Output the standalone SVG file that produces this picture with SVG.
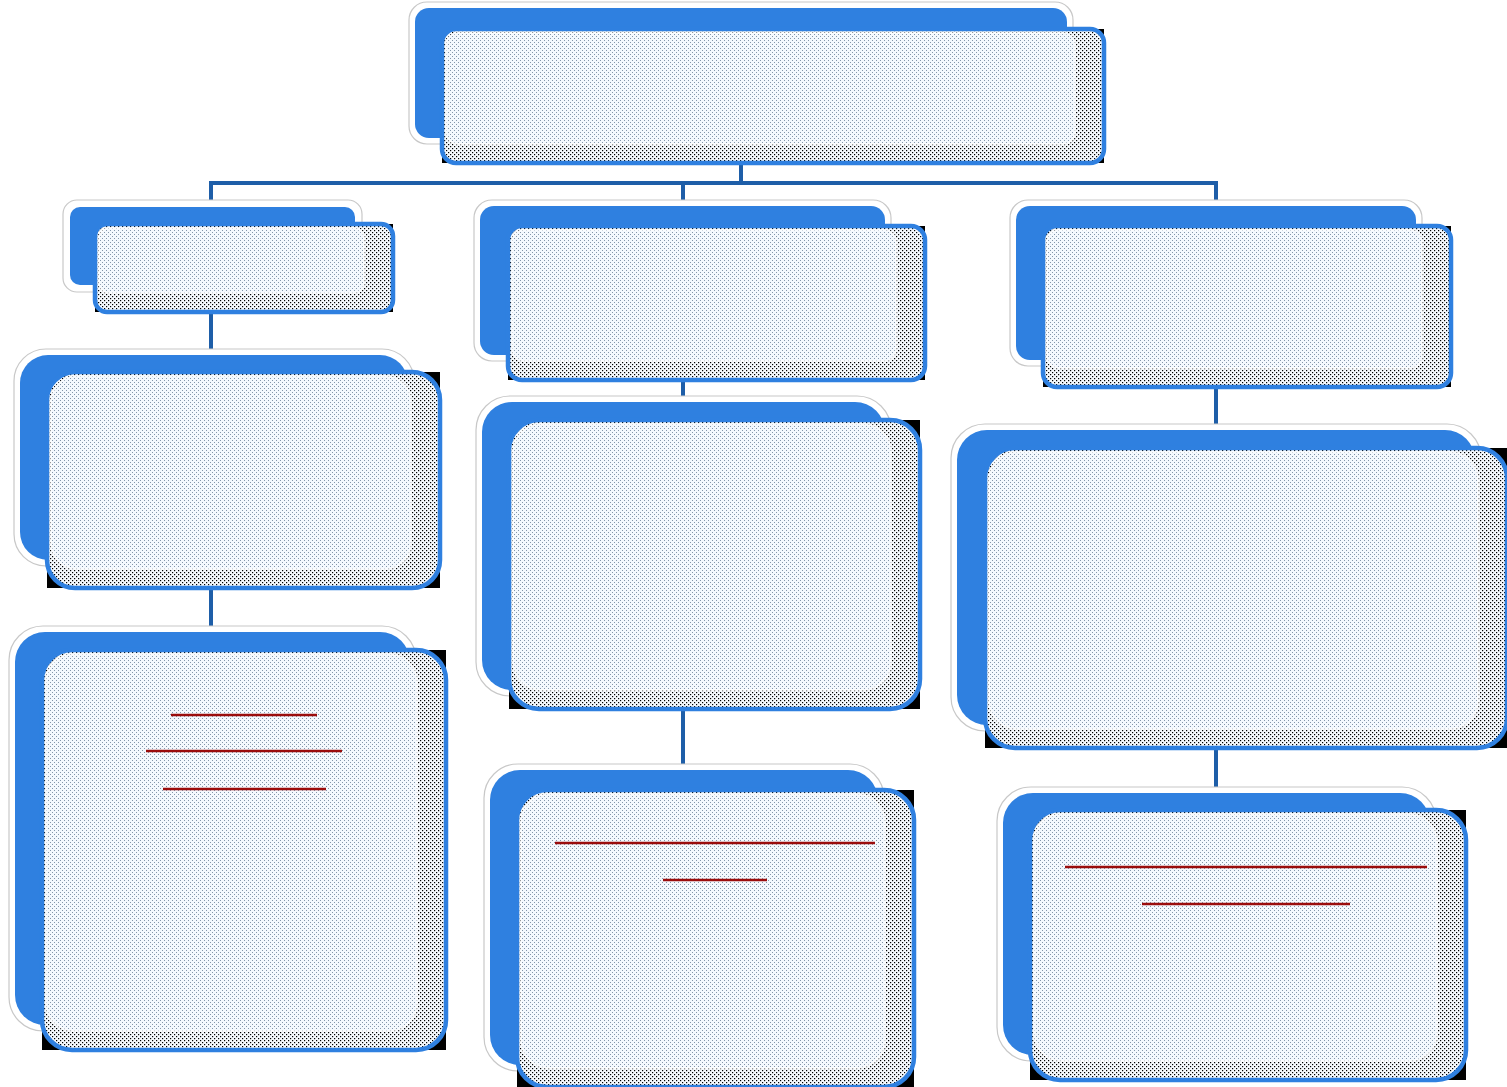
<svg xmlns="http://www.w3.org/2000/svg" width="1507" height="1087" viewBox="0 0 1507 1087">
<defs>
<pattern id="lt" patternUnits="userSpaceOnUse" width="4" height="4">
<rect width="4" height="4" fill="#F4F9FE"/>
<rect x="0" y="0" width="1" height="1" fill="#8496AA"/>
<rect x="2" y="2" width="1" height="1" fill="#8496AA"/>
</pattern>
<pattern id="dk" patternUnits="userSpaceOnUse" width="4" height="4">
<rect width="4" height="4" fill="#F6FAFE"/>
<rect x="0" y="0" width="1.2" height="1.2" fill="#000"/>
<rect x="2" y="2" width="1.2" height="1.2" fill="#000"/>
</pattern>
<style>
.ol{fill:#fff;stroke:#c8c8c8;stroke-width:1.2}
.bk{fill:#2F80E0}
.sh{fill:#000}
.fr{fill:url(#dk);stroke:#2F80E0;stroke-width:4.5}
.in{fill:url(#lt);stroke:#fff;stroke-opacity:0.6;stroke-width:2}
.con{stroke:#1E5EA8;stroke-width:4;fill:none}
.red{stroke:#9A0C0C;stroke-width:2.5}
</style>
</defs>
<rect width="1507" height="1087" fill="#fff"/>
<g id="connectors">
<path class="con" d="M741 163V183M211 183H1216M211 181V207M683 181V207M1216 181V207"/>
<path class="con" d="M211 312V356M683 380V404M1216 387V432"/>
<path class="con" d="M211 588V634M683 709V772M1216 748V795"/>
</g>
<g id="n1">
<rect class="ol" x="409" y="2" width="664" height="142" rx="18"/>
<rect class="sh" x="442" y="29" width="662" height="134"/>
<rect class="bk" x="415" y="8" width="652" height="130" rx="14"/>
<rect class="fr" x="442" y="29" width="662" height="134" rx="14"/>
<rect class="in" x="446" y="33" width="629" height="111" rx="12"/>
</g>
<g id="n2">
<rect class="ol" x="63" y="200" width="299" height="92" rx="14"/>
<rect class="sh" x="95" y="224" width="298" height="88"/>
<rect class="bk" x="70" y="207" width="285" height="78" rx="10"/>
<rect class="fr" x="95" y="224" width="298" height="88" rx="12"/>
<rect class="in" x="99" y="228" width="265" height="65" rx="10"/>
</g>
<g id="n3">
<rect class="ol" x="474" y="200" width="417" height="161" rx="18"/>
<rect class="sh" x="508" y="226" width="417" height="154"/>
<rect class="bk" x="480" y="206" width="405" height="149" rx="14"/>
<rect class="fr" x="508" y="226" width="417" height="154" rx="14"/>
<rect class="in" x="512" y="230" width="384" height="131" rx="12"/>
</g>
<g id="n4">
<rect class="ol" x="1010" y="200" width="412" height="166" rx="18"/>
<rect class="sh" x="1043" y="226" width="408" height="161"/>
<rect class="bk" x="1016" y="206" width="400" height="154" rx="14"/>
<rect class="fr" x="1043" y="226" width="408" height="161" rx="14"/>
<rect class="in" x="1047" y="230" width="375" height="138" rx="12"/>
</g>
<g id="n5">
<rect class="ol" x="14" y="349" width="400" height="217" rx="32"/>
<rect class="sh" x="47" y="372" width="393" height="216"/>
<rect class="bk" x="20" y="355" width="388" height="205" rx="28"/>
<rect class="fr" x="47" y="372" width="393" height="216" rx="28"/>
<rect class="in" x="51" y="376" width="360" height="193" rx="26"/>
</g>
<g id="n6">
<rect class="ol" x="476" y="396" width="415" height="300" rx="34"/>
<rect class="sh" x="509" y="420" width="411" height="289"/>
<rect class="bk" x="482" y="402" width="403" height="288" rx="30"/>
<rect class="fr" x="509" y="420" width="411" height="289" rx="30"/>
<rect class="in" x="513" y="424" width="378" height="266" rx="28"/>
</g>
<g id="n7">
<rect class="ol" x="951" y="424" width="530" height="307" rx="34"/>
<rect class="sh" x="985" y="448" width="522" height="300"/>
<rect class="bk" x="957" y="430" width="518" height="295" rx="30"/>
<rect class="fr" x="985" y="448" width="522" height="300" rx="30"/>
<rect class="in" x="989" y="452" width="489" height="277" rx="28"/>
</g>
<g id="n8">
<rect class="ol" x="9" y="626" width="407" height="405" rx="34"/>
<rect class="sh" x="42" y="650" width="404" height="400"/>
<rect class="bk" x="15" y="632" width="395" height="393" rx="30"/>
<rect class="fr" x="42" y="650" width="404" height="400" rx="30"/>
<rect class="in" x="46" y="654" width="371" height="377" rx="28"/>
<line class="red" x1="171" y1="715" x2="317" y2="715"/>
<line class="red" x1="146" y1="751" x2="342" y2="751"/>
<line class="red" x1="163" y1="789" x2="326" y2="789"/>
</g>
<g id="n9">
<rect class="ol" x="484" y="764" width="400" height="307" rx="34"/>
<rect class="sh" x="517" y="790" width="397" height="297"/>
<rect class="bk" x="490" y="770" width="388" height="295" rx="30"/>
<rect class="fr" x="517" y="790" width="397" height="297" rx="30"/>
<rect class="in" x="521" y="794" width="364" height="274" rx="28"/>
<line class="red" x1="555" y1="843" x2="875" y2="843"/>
<line class="red" x1="663" y1="880" x2="767" y2="880"/>
</g>
<g id="n10">
<rect class="ol" x="997" y="787" width="439" height="274" rx="34"/>
<rect class="sh" x="1030" y="810" width="436" height="270"/>
<rect class="bk" x="1003" y="793" width="427" height="262" rx="30"/>
<rect class="fr" x="1030" y="810" width="436" height="270" rx="30"/>
<rect class="in" x="1034" y="814" width="403" height="247" rx="28"/>
<line class="red" x1="1065" y1="867" x2="1427" y2="867"/>
<line class="red" x1="1142" y1="904" x2="1350" y2="904" stroke-width="3.5"/>
</g>
</svg>
